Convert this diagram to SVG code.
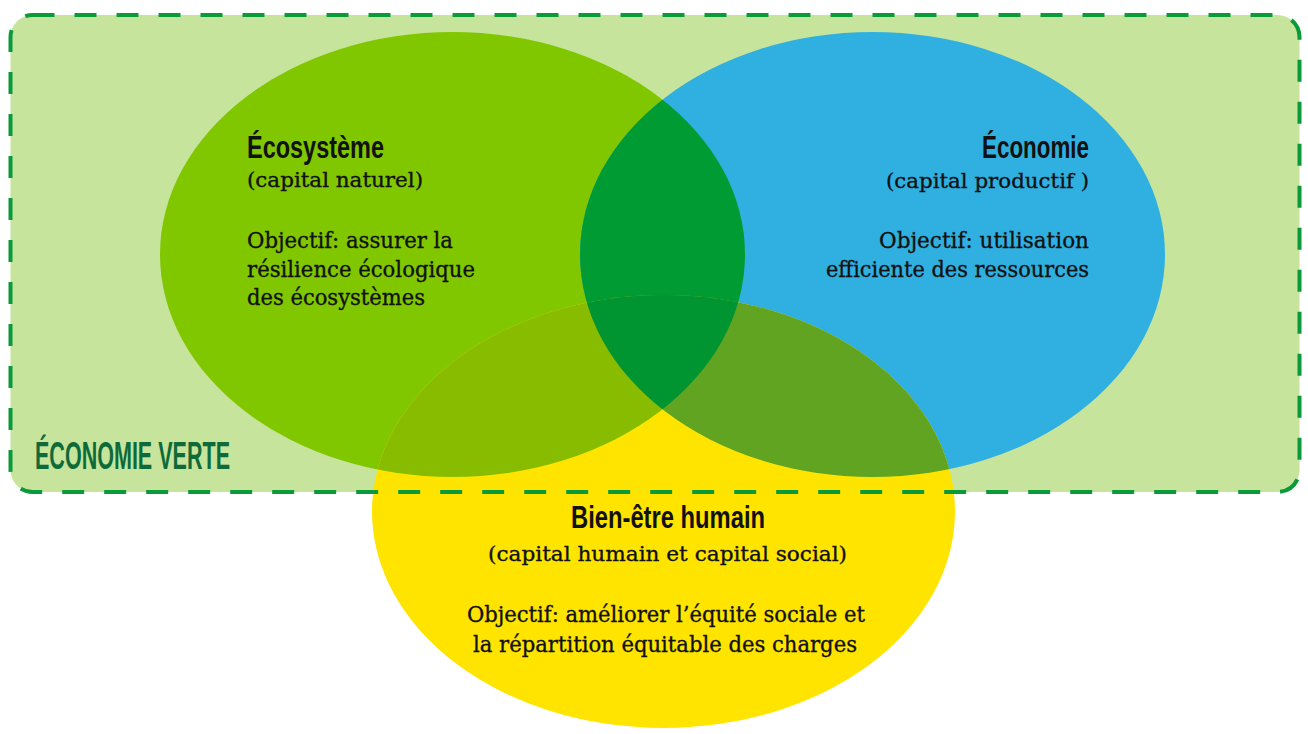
<svg xmlns="http://www.w3.org/2000/svg" width="1308" height="734" viewBox="0 0 1308 734">
  <style>
    .title { font-family: "Liberation Sans", "DejaVu Sans", sans-serif; font-weight: bold; font-size: 32px; fill: #111111; }
    .sub { font-family: "DejaVu Serif", "Liberation Serif", serif; font-size: 21px; fill: #111111; stroke: #111111; stroke-width: 0.35px; }
    .obj { font-family: "DejaVu Serif", "Liberation Serif", serif; font-size: 22.5px; fill: #111111; stroke: #111111; stroke-width: 0.35px; }
    .zone { font-family: "Liberation Sans", "DejaVu Sans", sans-serif; font-weight: bold; font-size: 38px; fill: #0e6b39; }
  </style>
  <defs>
    <clipPath id="clipGreen"><ellipse cx="452.5" cy="254.5" rx="292.5" ry="222.5"/></clipPath>
    <clipPath id="clipBlue"><ellipse cx="872.5" cy="254.5" rx="292.5" ry="222.5"/></clipPath>
  </defs>

  <g id="economie-verte-zone">
    <rect x="10.5" y="15" width="1289" height="477" rx="22" ry="22" fill="#c6e49c"/>
  </g>

  <g id="ecosysteme-node">
    <ellipse cx="452.5" cy="254.5" rx="292.5" ry="222.5" fill="#80c700"/>
  </g>
  <g id="economie-node">
    <ellipse cx="872.5" cy="254.5" rx="292.5" ry="222.5" fill="#2fb0e0"/>
  </g>
  <g id="bien-etre-node">
    <ellipse cx="663.5" cy="511.5" rx="291.5" ry="216.5" fill="#ffe400"/>
  </g>

  <g id="overlaps">
    <ellipse cx="872.5" cy="254.5" rx="292.5" ry="222.5" fill="#009b33" clip-path="url(#clipGreen)"/>
    <ellipse cx="663.5" cy="511.5" rx="291.5" ry="216.5" fill="#88bc00" clip-path="url(#clipGreen)"/>
    <ellipse cx="663.5" cy="511.5" rx="291.5" ry="216.5" fill="#60a421" clip-path="url(#clipBlue)"/>
    <g clip-path="url(#clipGreen)">
      <ellipse cx="663.5" cy="511.5" rx="291.5" ry="216.5" fill="#009530" clip-path="url(#clipBlue)"/>
    </g>
  </g>

  <g id="zone-border">
    <rect x="10.5" y="15" width="1289" height="477" rx="22" ry="22" fill="none" stroke="#0a9a3a" stroke-width="4" stroke-dasharray="22 20"/>
    <text class="zone" x="35" y="469" textLength="195" lengthAdjust="spacingAndGlyphs">ÉCONOMIE VERTE</text>
  </g>

  <g id="connectors"/>

  <g id="ecosysteme-text">
    <text class="title" x="247" y="158" textLength="137" lengthAdjust="spacingAndGlyphs">Écosystème</text>
    <text class="sub" x="247" y="187" textLength="176" lengthAdjust="spacingAndGlyphs">(capital naturel)</text>
    <text class="obj" x="247" y="248" textLength="206" lengthAdjust="spacingAndGlyphs">Objectif: assurer la</text>
    <text class="obj" x="247" y="277" textLength="228" lengthAdjust="spacingAndGlyphs">résilience écologique</text>
    <text class="obj" x="247" y="305" textLength="178" lengthAdjust="spacingAndGlyphs">des écosystèmes</text>
  </g>

  <g id="economie-text">
    <text class="title" x="982" y="158" textLength="107" lengthAdjust="spacingAndGlyphs">Économie</text>
    <text class="sub" x="886" y="188" textLength="203" lengthAdjust="spacingAndGlyphs">(capital productif )</text>
    <text class="obj" x="879" y="248" textLength="210" lengthAdjust="spacingAndGlyphs">Objectif: utilisation</text>
    <text class="obj" x="826" y="277" textLength="263" lengthAdjust="spacingAndGlyphs">efficiente des ressources</text>
  </g>

  <g id="bien-etre-text">
    <text class="title" x="571" y="528" textLength="194" lengthAdjust="spacingAndGlyphs">Bien-être humain</text>
    <text class="sub" x="488" y="561" textLength="359" lengthAdjust="spacingAndGlyphs">(capital humain et capital social)</text>
    <text class="obj" x="467" y="622" textLength="398" lengthAdjust="spacingAndGlyphs">Objectif: améliorer l’équité sociale et</text>
    <text class="obj" x="473" y="652" textLength="384" lengthAdjust="spacingAndGlyphs">la répartition équitable des charges</text>
  </g>
</svg>
